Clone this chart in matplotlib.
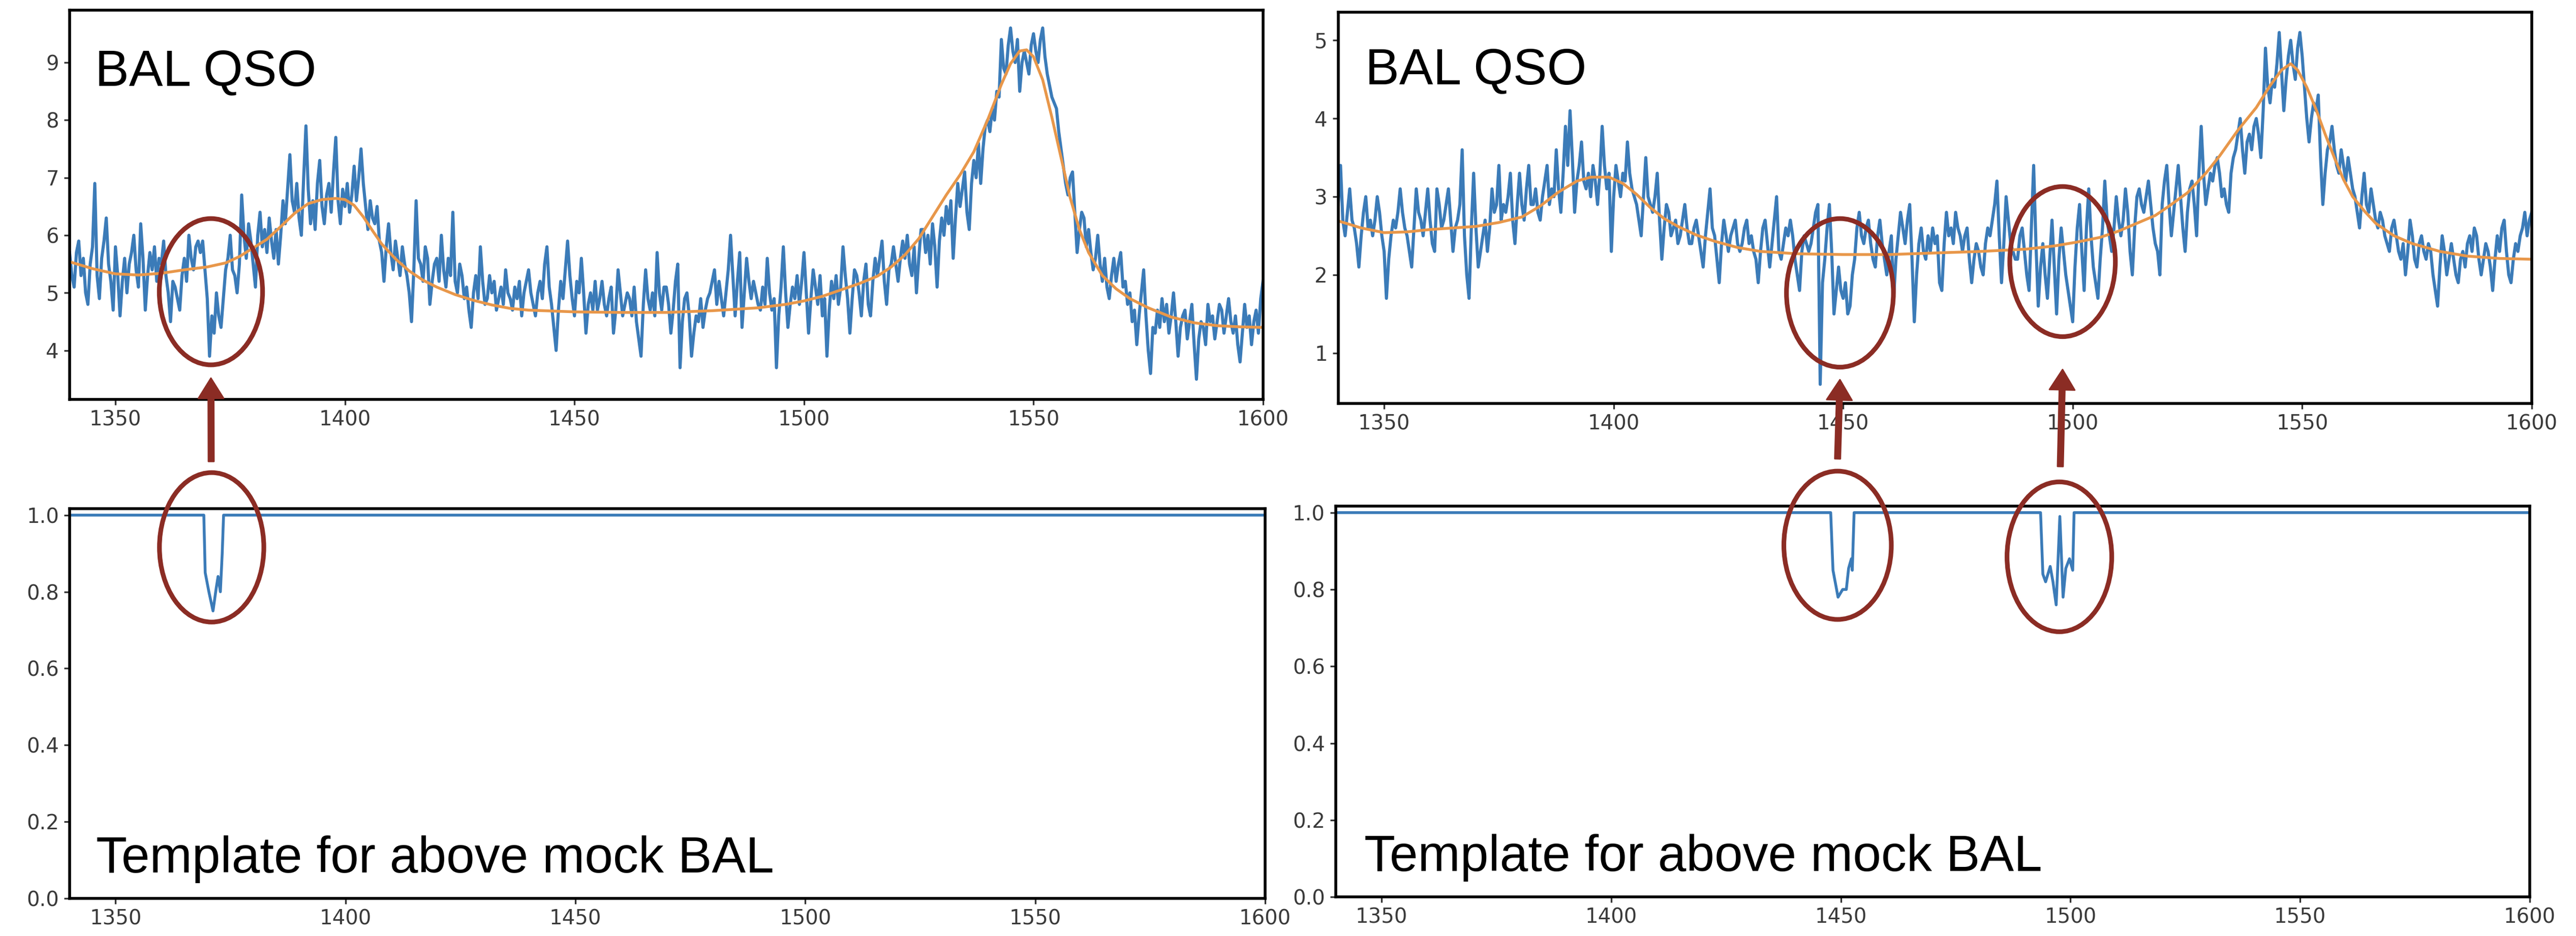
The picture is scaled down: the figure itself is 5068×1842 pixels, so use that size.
import numpy as np
import matplotlib
matplotlib.use('Agg')
import matplotlib.pyplot as plt
from matplotlib.patches import Ellipse

plt.rcParams['font.family'] = ['DejaVu Sans']

# ---------------------- data ----------------------
wave = np.arange(1340, 1600.5, 0.5)

# mock BAL QSO no. 1 (left), flux per 0.5 A
flux_a = [
    5.7, 5.3, 5.1, 5.7, 5.9, 5.3, 5.6, 5.0, 4.8, 5.5, 5.8, 6.9, 5.3, 4.9, 5.6, 5.9, 6.3, 5.5, 5.2, 4.7,
    5.8, 5.3, 4.6, 5.2, 5.6, 5.0, 5.5, 5.7, 6.0, 5.4, 5.1, 6.2, 5.6, 4.7, 5.3, 5.7, 5.4, 5.8, 5.2, 5.6,
    5.5, 5.9, 5.3, 5.0, 4.5, 5.2, 5.1, 4.9, 4.7, 5.3, 5.6, 5.2, 6.0, 5.6, 5.4, 5.8, 5.9, 5.7, 5.9, 5.4,
    4.9, 3.9, 4.6, 4.3, 5.0, 4.6, 4.4, 4.9, 5.4, 5.6, 6.0, 5.4, 5.3, 5.0, 5.5, 6.7, 6.0, 5.6, 6.2, 5.9,
    5.5, 5.1, 6.0, 6.4, 5.8, 6.1, 5.7, 6.3, 5.9, 5.6, 6.1, 5.5, 6.0, 6.6, 6.2, 6.8, 7.4, 6.6, 6.4, 6.9,
    6.3, 6.0, 7.0, 7.9, 6.8, 6.2, 6.6, 6.1, 6.9, 7.3, 6.5, 6.2, 6.7, 6.9, 6.4, 7.1, 7.7, 6.6, 6.2, 6.8,
    6.5, 6.9, 6.4, 6.7, 7.2, 6.6, 7.0, 7.5, 6.9, 6.5, 6.1, 6.6, 6.3, 6.2, 6.5, 5.9, 5.7, 5.2, 5.8, 6.2,
    5.7, 5.4, 5.9, 5.6, 5.3, 5.8, 5.5, 5.3, 5.0, 4.5, 5.4, 6.6, 5.6, 5.5, 5.2, 5.8, 5.6, 4.8, 5.2, 5.5,
    5.6, 5.2, 6.0, 5.4, 5.1, 5.6, 5.3, 6.4, 5.2, 5.0, 5.5, 5.3, 4.9, 5.1, 4.7, 4.4, 5.0, 5.3, 4.9, 5.8,
    5.2, 4.8, 4.9, 5.3, 5.0, 5.2, 4.7, 4.9, 5.1, 4.8, 5.4, 5.0, 4.9, 4.7, 5.1, 4.9, 5.2, 4.6, 5.0, 5.2,
    5.4, 5.0, 4.8, 4.6, 5.0, 5.2, 4.9, 5.5, 5.8, 5.1, 4.8, 4.4, 4.0, 4.7, 5.2, 4.9, 5.4, 5.9, 5.3, 4.9,
    4.6, 5.2, 5.0, 5.6, 5.0, 4.3, 4.8, 5.0, 4.7, 5.2, 4.7, 4.9, 5.2, 4.8, 4.6, 4.9, 5.1, 4.3, 4.7, 5.4,
    5.0, 4.6, 4.8, 5.0, 4.9, 4.6, 5.1, 4.5, 4.2, 3.9, 4.8, 5.4, 4.9, 4.7, 5.0, 4.6, 5.7, 5.0, 4.7, 5.1,
    5.1, 4.8, 4.3, 4.7, 5.2, 5.5, 3.7, 4.5, 4.9, 5.0, 4.6, 3.9, 4.3, 4.6, 4.5, 4.9, 4.4, 4.7, 4.9, 5.0,
    5.2, 5.4, 4.8, 5.2, 4.9, 4.6, 5.0, 5.4, 6.0, 5.3, 4.6, 5.2, 5.7, 4.4, 5.0, 5.6, 5.2, 4.9, 5.2, 5.0,
    4.8, 4.7, 5.1, 4.8, 5.6, 5.0, 4.7, 4.9, 3.7, 4.6, 5.1, 5.8, 5.0, 4.4, 4.8, 5.1, 4.9, 5.3, 4.8, 5.2,
    5.7, 5.0, 4.3, 4.9, 5.4, 5.1, 4.8, 5.3, 4.6, 4.9, 3.9, 4.7, 5.2, 4.9, 5.3, 4.8, 5.1, 5.8, 5.3, 4.9,
    4.3, 4.9, 5.4, 5.3, 5.0, 4.6, 5.2, 5.5, 4.8, 4.6, 5.2, 5.6, 5.3, 5.6, 5.9, 5.2, 4.8, 5.4, 5.5, 5.8,
    5.5, 5.2, 5.6, 5.9, 5.6, 6.0, 5.5, 5.3, 5.8, 5.0, 5.6, 6.1, 6.1, 5.7, 6.0, 5.5, 6.2, 5.8, 5.1, 5.9,
    6.3, 6.0, 6.5, 6.2, 6.6, 5.6, 6.3, 6.9, 6.5, 6.8, 7.1, 6.4, 6.1, 6.9, 7.3, 7.0, 7.6, 6.9, 7.5, 7.9,
    8.0, 7.8, 8.2, 8.0, 8.5, 8.4, 9.4, 8.9, 8.8, 9.3, 9.6, 9.2, 9.0, 9.4, 8.5, 9.0, 9.2, 9.0, 8.8, 9.3,
    9.5, 9.2, 9.0, 9.4, 9.6, 9.1, 8.8, 8.6, 8.4, 8.3, 8.2, 7.8, 7.5, 7.2, 6.9, 6.7, 7.0, 7.1, 6.4, 5.7,
    6.1, 6.4, 6.3, 5.8, 6.1, 5.7, 5.4, 5.6, 6.0, 5.5, 5.2, 5.6, 5.1, 4.9, 5.3, 5.6, 5.2, 5.5, 5.7, 5.1,
    5.2, 4.8, 5.0, 4.5, 4.7, 4.1, 4.6, 5.0, 5.4, 4.6, 4.0, 3.6, 4.4, 4.3, 4.7, 4.4, 4.9, 4.5, 4.8, 4.3,
    4.6, 5.0, 4.5, 3.9, 4.4, 4.6, 4.7, 4.2, 4.5, 4.8, 4.1, 3.5, 4.2, 4.5, 4.4, 4.1, 4.8, 4.5, 4.6, 4.2,
    4.5, 4.8, 4.7, 4.3, 4.6, 4.9, 4.5, 4.3, 4.6, 4.1, 3.8, 4.3, 4.8, 4.4, 4.6, 4.1, 4.5, 4.7, 4.3, 4.9,
    5.2,
]

# continuum fit for spectrum a
cont_a_wave = [1340, 1345, 1350, 1355, 1360, 1365, 1370, 1374, 1377, 1380, 1383, 1386, 1389, 1392,
               1395, 1398, 1400, 1402, 1404, 1406, 1408, 1411, 1414, 1417, 1420, 1424, 1428, 1432,
               1436, 1440, 1450, 1460, 1470, 1480, 1490, 1496, 1500, 1504, 1508, 1512, 1516, 1519,
               1522, 1525, 1528, 1531, 1534, 1537, 1540, 1543, 1545, 1547, 1548.5, 1550, 1552, 1554,
               1556, 1558, 1560, 1562, 1565, 1568, 1571, 1575, 1580, 1585, 1590, 1595, 1600]
cont_a_flux = [5.54, 5.42, 5.33, 5.31, 5.34, 5.40, 5.45, 5.52, 5.63, 5.78, 5.93, 6.15, 6.38, 6.55,
               6.62, 6.64, 6.62, 6.52, 6.32, 6.08, 5.85, 5.59, 5.38, 5.22, 5.10, 4.97, 4.87, 4.79,
               4.73, 4.70, 4.67, 4.66, 4.66, 4.69, 4.74, 4.80, 4.86, 4.94, 5.05, 5.16, 5.29, 5.45,
               5.66, 5.94, 6.32, 6.70, 7.05, 7.45, 8.00, 8.62, 8.98, 9.20, 9.22, 9.10, 8.70, 8.05,
               7.35, 6.65, 6.10, 5.70, 5.30, 5.07, 4.90, 4.74, 4.58, 4.48, 4.43, 4.41, 4.40]

# mock BAL QSO no. 2 (right), flux per 0.5 A
flux_b = [
    2.9, 3.4, 2.7, 2.5, 2.8, 3.1, 2.7, 2.6, 2.4, 2.1, 2.5, 2.8, 3.0, 2.6, 2.7, 2.5, 2.7, 3.0, 2.8, 2.5,
    2.3, 1.7, 2.2, 2.5, 2.7, 2.6, 2.8, 3.1, 2.8, 2.6, 2.5, 2.3, 2.1, 2.6, 3.1, 2.8, 2.7, 2.5, 2.8, 3.1,
    2.7, 2.4, 2.3, 3.1, 2.9, 2.6, 2.7, 2.9, 3.1, 2.7, 2.3, 2.6, 2.7, 2.9, 3.6, 2.5, 2.0, 1.7, 2.6, 3.3,
    2.6, 2.1, 2.3, 2.5, 2.7, 2.3, 2.6, 3.1, 2.8, 2.9, 3.4, 2.7, 2.9, 2.8, 3.0, 3.3, 2.7, 2.4, 2.9, 3.3,
    2.9, 2.7, 3.1, 3.4, 2.9, 2.9, 3.1, 2.8, 2.7, 3.0, 3.2, 3.4, 2.9, 3.1, 3.0, 3.6, 3.1, 2.8, 3.3, 3.9,
    3.4, 4.1, 3.5, 2.8, 3.2, 3.4, 3.7, 3.2, 3.1, 3.3, 3.0, 3.4, 3.2, 2.9, 3.3, 3.9, 3.4, 3.1, 3.3, 2.3,
    3.0, 3.4, 3.2, 3.0, 3.3, 3.2, 3.7, 3.3, 3.1, 3.0, 2.9, 2.7, 2.5, 3.0, 3.5, 3.0, 2.9, 2.8, 3.0, 3.3,
    2.7, 2.2, 2.6, 2.9, 2.8, 2.5, 2.6, 2.7, 2.4, 2.5, 2.7, 2.9, 2.6, 2.4, 2.4, 2.6, 2.7, 2.5, 2.3, 2.1,
    2.5, 2.8, 3.1, 2.6, 2.5, 2.2, 1.9, 2.4, 2.7, 2.5, 2.3, 2.5, 2.6, 2.7, 2.4, 2.3, 2.4, 2.6, 2.7, 2.4,
    2.5, 2.3, 2.2, 1.9, 2.3, 2.6, 2.7, 2.4, 2.1, 2.4, 2.7, 3.0, 2.3, 2.2, 2.4, 2.6, 2.5, 2.7, 2.5, 2.2,
    2.0, 1.8, 2.3, 2.5, 2.4, 2.3, 2.4, 2.6, 2.8, 2.9, 0.6, 1.9, 2.2, 2.6, 2.9, 2.3, 1.5, 1.8, 2.1, 1.8,
    1.7, 1.9, 1.5, 1.6, 2.0, 2.2, 2.6, 2.8, 2.5, 2.4, 2.6, 2.7, 2.4, 2.2, 2.1, 2.5, 2.7, 2.4, 2.2, 2.0,
    2.3, 2.5, 1.7, 2.2, 2.5, 2.8, 2.6, 2.4, 2.7, 2.9, 2.2, 1.4, 2.0, 2.4, 2.6, 2.3, 2.2, 2.5, 2.3, 2.6,
    2.4, 2.5, 1.9, 1.8, 2.4, 2.8, 2.5, 2.6, 2.4, 2.8, 2.6, 2.5, 2.3, 2.5, 2.6, 2.2, 1.9, 2.2, 2.4, 2.3,
    2.1, 2.0, 2.4, 2.6, 2.5, 2.7, 2.9, 3.2, 2.5, 1.9, 2.4, 3.0, 2.7, 2.4, 2.3, 2.2, 2.2, 2.5, 2.6, 2.3,
    2.0, 1.8, 2.6, 3.4, 2.4, 1.6, 2.1, 2.4, 2.0, 1.7, 2.2, 2.7, 2.1, 1.5, 2.2, 2.6, 2.3, 2.0, 1.8, 1.6,
    1.4, 2.1, 2.6, 2.9, 2.3, 1.8, 2.6, 3.1, 2.5, 2.1, 1.9, 1.7, 2.2, 2.6, 3.2, 2.7, 2.5, 2.3, 2.6, 3.0,
    2.7, 2.5, 2.7, 3.1, 2.8, 2.3, 2.0, 2.6, 3.0, 3.1, 2.9, 2.8, 3.0, 3.2, 2.9, 2.6, 2.4, 2.3, 2.0, 2.9,
    3.2, 3.4, 2.9, 2.5, 2.8, 3.1, 3.4, 3.0, 2.6, 2.3, 2.8, 3.1, 3.2, 2.9, 2.5, 3.3, 3.9, 3.3, 2.9, 3.1,
    3.3, 3.2, 3.4, 3.5, 3.3, 3.0, 3.1, 2.9, 2.8, 3.3, 3.5, 3.6, 3.8, 4.0, 3.6, 3.3, 3.7, 3.8, 3.6, 3.9,
    4.0, 3.8, 3.5, 4.1, 4.9, 4.4, 4.2, 4.5, 4.4, 4.7, 5.1, 4.6, 4.1, 4.5, 4.8, 5.0, 4.7, 4.5, 4.9, 5.1,
    4.8, 4.4, 4.0, 3.7, 4.0, 4.2, 4.1, 4.3, 3.5, 2.9, 3.3, 3.6, 3.7, 3.9, 3.6, 3.4, 3.3, 3.6, 3.4, 3.2,
    3.5, 3.3, 3.1, 3.0, 2.8, 2.6, 3.0, 3.3, 2.9, 2.8, 3.1, 2.9, 2.7, 2.6, 2.8, 2.7, 2.5, 2.4, 2.3, 2.6,
    2.7, 2.5, 2.3, 2.2, 2.4, 2.0, 2.3, 2.7, 2.5, 2.2, 2.1, 2.4, 2.5, 2.3, 2.2, 2.4, 2.3, 2.0, 1.8, 1.6,
    2.1, 2.5, 2.3, 2.0, 2.2, 2.4, 2.2, 2.0, 1.9, 2.2, 2.3, 2.1, 2.4, 2.5, 2.3, 2.6, 2.5, 2.2, 2.0, 2.2,
    2.4, 2.3, 2.1, 1.8, 2.2, 2.5, 2.3, 2.6, 2.7, 2.3, 2.0, 1.9, 2.2, 2.4, 2.3, 2.5, 2.6, 2.8, 2.5, 2.7,
    2.8,
]

cont_b_wave = [1340, 1345, 1350, 1355, 1360, 1365, 1370, 1375, 1380, 1384, 1388, 1392, 1395, 1399,
               1402, 1405, 1408, 1411, 1414, 1418, 1422, 1427, 1432, 1440, 1450, 1460, 1470, 1480,
               1490, 1496, 1501, 1506, 1510, 1514, 1518, 1521, 1525, 1529, 1532, 1536, 1540, 1543,
               1545.5, 1547.5, 1549, 1551, 1553, 1555, 1557, 1559, 1561, 1563.5, 1566, 1570, 1574,
               1580, 1586, 1593, 1600]
cont_b_flux = [2.69, 2.60, 2.54, 2.55, 2.58, 2.60, 2.62, 2.67, 2.74, 2.88, 3.06, 3.20, 3.25, 3.25,
               3.17, 3.03, 2.86, 2.72, 2.62, 2.51, 2.43, 2.35, 2.30, 2.27, 2.26, 2.26, 2.28, 2.30,
               2.33, 2.37, 2.42, 2.48, 2.56, 2.66, 2.76, 2.88, 3.05, 3.30, 3.52, 3.85, 4.14, 4.42,
               4.62, 4.70, 4.62, 4.40, 4.12, 3.80, 3.50, 3.22, 3.00, 2.82, 2.66, 2.50, 2.40,
               2.30, 2.24, 2.21, 2.20]

# BAL templates (1.0 outside the troughs)
tmpl_a_wave = [1340, 1369.2, 1369.5, 1370.3, 1371.2, 1371.9, 1372.3, 1372.8, 1373.2, 1373.5, 1600]
tmpl_a_flux = [1.0, 1.0, 0.85, 0.80, 0.75, 0.81, 0.84, 0.80, 0.90, 1.0, 1.0]

tmpl_b_wave = [1340, 1447.8, 1448.3, 1449.4, 1450.4, 1451.2, 1451.7, 1452.3, 1452.5, 1452.9,
               1493.5, 1494.0, 1494.6, 1495.6, 1496.2, 1496.9, 1497.7, 1498.4, 1499.0, 1499.8,
               1500.5, 1500.8, 1600]
tmpl_b_flux = [1.0, 1.0, 0.85, 0.78, 0.80, 0.80, 0.855, 0.88, 0.85, 1.0,
               1.0, 0.84, 0.82, 0.86, 0.82, 0.76, 0.99, 0.78, 0.855, 0.88,
               0.85, 1.0, 1.0]

# trough positions marked with circles/arrows
trough_a = [1370.8]
trough_b = [1449.3, 1497.8]

# ---------------------- figure ----------------------
BLUE = '#3b7bb8'
ORANGE = '#e8974a'
RED = '#8b2c24'
W, H = 5068, 1842

fig = plt.figure(figsize=(W / 200, H / 200), dpi=200)
ax_tl = fig.add_axes([0.0270, 0.5733, 0.4633, 0.4159])
ax_tr = fig.add_axes([0.5195, 0.5690, 0.4633, 0.4180])
ax_bl = fig.add_axes([0.0270, 0.0402, 0.4641, 0.4164])
ax_br = fig.add_axes([0.5185, 0.0418, 0.4635, 0.4175])

ax_tl.plot(wave, flux_a, color=BLUE, lw=2.2)
ax_tl.plot(cont_a_wave, cont_a_flux, color=ORANGE, lw=2.0)
ax_tr.plot(wave, flux_b, color=BLUE, lw=2.2)
ax_tr.plot(cont_b_wave, cont_b_flux, color=ORANGE, lw=2.0)
ax_bl.plot(tmpl_a_wave, tmpl_a_flux, color=BLUE, lw=2.0)
ax_br.plot(tmpl_b_wave, tmpl_b_flux, color=BLUE, lw=2.0)

ax_tl.set_ylim(3.15, 9.91)
ax_tl.set_yticks([4, 5, 6, 7, 8, 9])
ax_tr.set_ylim(0.356, 5.36)
ax_tr.set_yticks([1, 2, 3, 4, 5])
for ax in (ax_bl, ax_br):
    ax.set_ylim(0, 1.017)
    ax.set_yticks([0.0, 0.2, 0.4, 0.6, 0.8, 1.0])

for ax in (ax_tl, ax_tr, ax_bl, ax_br):
    ax.set_xlim(1340, 1600)
    ax.set_xticks([1350, 1400, 1450, 1500, 1550, 1600])
    ax.tick_params(labelsize=14.5, labelcolor='#3a3a3a', width=1.2, length=4, color='#333333')
    for s in ax.spines.values():
        s.set_linewidth(2.0)
        s.set_color('black')

txt = dict(family='Liberation Sans', fontsize=36, color='black', va='baseline', ha='left')
ax_tl.text(0.0213, 0.805, 'BAL QSO', transform=ax_tl.transAxes, **txt)
ax_tr.text(0.0226, 0.816, 'BAL QSO', transform=ax_tr.transAxes, **txt)
ax_bl.text(0.022, 0.066, 'Template for above mock BAL', transform=ax_bl.transAxes, **txt)
ax_br.text(0.024, 0.066, 'Template for above mock BAL', transform=ax_br.transAxes, **txt)

# ---------------------- circles + arrows ----------------------
ring = dict(fill=False, edgecolor=RED, lw=3.3, clip_on=False, zorder=5)
ax_tl.add_patch(Ellipse((trough_a[0], 5.02), 22.5, 2.54, **ring))
ax_bl.add_patch(Ellipse((trough_a[0] + 0.1, 0.916), 22.7, 0.39, **ring))
ax_tr.add_patch(Ellipse((trough_b[0], 1.77), 23.3, 1.90, **ring))
ax_tr.add_patch(Ellipse((trough_b[1], 2.17), 23.0, 1.92, **ring))
ax_br.add_patch(Ellipse((trough_b[0], 0.915), 23.4, 0.386, **ring))
ax_br.add_patch(Ellipse((trough_b[1] - 0.2, 0.885), 22.8, 0.39, **ring))

arrow = dict(arrowstyle='simple,head_length=0.4,head_width=0.5,tail_width=0.11',
             color=RED, shrinkA=0, shrinkB=0, mutation_scale=36, clip_on=False)
ax_tl.annotate('', xy=(trough_a[0], 3.52), xytext=(trough_a[0], 1.14),
               textcoords=ax_bl.transData, arrowprops=arrow, annotation_clip=False)
ax_tr.annotate('', xy=(trough_b[0], 0.66), xytext=(trough_b[0], 1.14),
               textcoords=ax_br.transData, arrowprops=arrow, annotation_clip=False)
ax_tr.annotate('', xy=(trough_b[1], 0.79), xytext=(trough_b[1], 1.12),
               textcoords=ax_br.transData, arrowprops=arrow, annotation_clip=False)

plt.savefig('out.png', dpi=200)
